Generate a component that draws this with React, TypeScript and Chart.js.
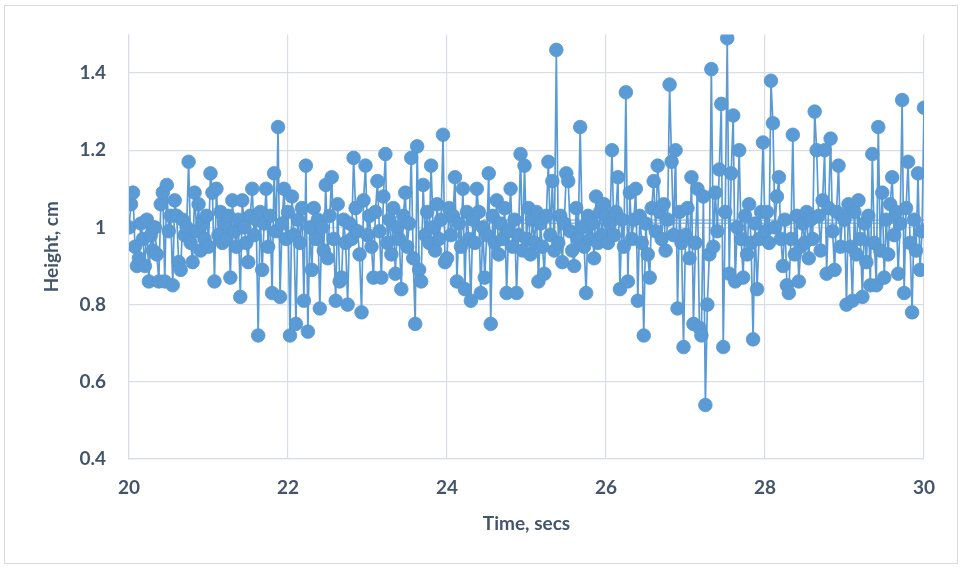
import React, { useEffect, useRef } from "react";
import { Chart, registerables } from "chart.js";

Chart.register(...registerables);

// Sampling of the trace
const START_TIME = 20;
const SAMPLE_STEP = 0.025;

// Height samples (cm), one array per second of the trace
const heights20 = [1.00, 1.06, 1.09, 0.95, 0.90, 0.92, 1.01, 0.97, 0.90, 1.02, 0.86, 0.98, 0.94, 1.00, 0.93, 0.86, 1.06, 1.09, 0.86, 1.11, 0.99, 1.03, 0.85, 1.07, 1.03, 0.91, 0.89, 1.02, 0.98, 1.00, 1.17, 0.96, 0.91, 1.09, 0.99, 1.06, 0.94, 1.01, 0.97, 1.03];
const heights21 = [0.95, 1.14, 1.09, 0.86, 1.10, 0.98, 1.04, 0.96, 1.01, 0.97, 1.03, 0.87, 1.07, 0.99, 0.95, 1.02, 0.82, 1.07, 1.00, 0.96, 0.91, 1.03, 1.10, 0.98, 1.02, 0.72, 1.04, 0.89, 1.01, 1.10, 0.95, 1.03, 0.83, 1.14, 0.99, 1.26, 0.82, 1.01, 1.10, 0.97];
const heights22 = [1.04, 0.72, 1.08, 0.98, 0.75, 1.02, 0.96, 1.05, 0.81, 1.16, 0.73, 1.00, 0.89, 1.05, 0.97, 1.02, 0.79, 1.00, 0.94, 1.11, 0.92, 1.03, 1.13, 0.97, 0.81, 1.06, 0.86, 0.87, 1.02, 0.96, 0.80, 1.01, 0.97, 1.18, 1.05, 0.99, 0.93, 0.78, 1.07, 1.16];
const heights23 = [0.98, 1.03, 0.95, 0.87, 1.04, 1.12, 0.99, 0.87, 1.08, 1.19, 0.96, 1.02, 0.93, 1.05, 0.88, 1.00, 0.97, 0.84, 1.03, 1.09, 0.95, 1.01, 1.18, 0.92, 0.75, 1.21, 0.89, 0.86, 1.11, 0.98, 1.04, 0.96, 1.16, 1.00, 0.94, 1.06, 0.97, 1.02, 1.24, 0.91];
const heights24 = [0.92, 1.05, 0.98, 1.03, 1.13, 0.86, 1.01, 0.95, 1.10, 0.84, 1.04, 0.97, 0.81, 1.02, 0.96, 1.10, 1.04, 0.83, 1.00, 0.87, 0.98, 1.14, 0.75, 1.03, 0.96, 1.07, 0.93, 1.01, 0.97, 1.05, 0.83, 0.99, 1.10, 0.95, 1.02, 0.83, 0.98, 1.19, 0.94, 1.16];
const heights25 = [0.97, 1.05, 0.93, 1.02, 0.96, 1.04, 0.86, 1.01, 0.95, 0.88, 1.03, 1.17, 0.98, 1.12, 0.94, 1.46, 0.96, 1.03, 0.91, 1.01, 1.14, 1.12, 0.99, 0.94, 0.90, 1.05, 0.97, 1.26, 1.00, 0.95, 0.83, 1.03, 0.97, 1.01, 0.92, 1.08, 0.96, 1.04, 0.98, 1.06];
const heights26 = [1.03, 0.96, 1.01, 1.20, 0.98, 1.04, 1.13, 0.84, 1.02, 0.95, 1.35, 0.86, 1.09, 0.97, 1.02, 1.10, 0.81, 1.03, 0.96, 0.72, 1.01, 0.93, 0.87, 1.05, 1.12, 0.99, 1.16, 1.04, 0.97, 1.06, 0.94, 1.02, 1.37, 1.17, 0.98, 1.20, 0.79, 1.04, 0.96, 0.69];
const heights27 = [0.98, 1.05, 0.92, 1.13, 0.75, 0.96, 1.10, 0.74, 0.72, 1.08, 0.54, 0.80, 0.93, 1.41, 0.95, 1.09, 0.99, 1.15, 1.32, 0.69, 1.04, 1.49, 0.88, 1.14, 1.29, 0.86, 1.00, 1.20, 0.97, 0.87, 1.03, 0.93, 1.06, 0.96, 0.71, 1.01, 0.84, 0.97, 1.04, 1.22];
const heights28 = [0.99, 1.04, 0.96, 1.38, 1.27, 1.00, 1.08, 1.13, 0.97, 0.90, 1.02, 0.85, 0.83, 0.97, 1.24, 0.93, 1.03, 0.86, 0.95, 1.01, 0.96, 1.04, 0.92, 1.02, 0.97, 1.30, 1.20, 1.03, 0.94, 1.07, 1.20, 0.88, 1.05, 1.23, 0.99, 0.89, 1.04, 1.16, 0.95, 1.03];
const heights29 = [1.02, 0.80, 1.06, 0.95, 0.81, 1.04, 0.93, 1.07, 0.97, 0.82, 1.01, 0.91, 1.03, 0.85, 1.19, 0.96, 0.85, 1.26, 0.94, 1.09, 0.87, 1.02, 0.93, 1.06, 1.13, 0.98, 1.04, 0.88, 1.01, 1.33, 0.83, 1.05, 1.17, 0.96, 0.78, 1.02, 0.94, 1.14, 0.89, 0.99];
const heights30 = [1.31];

// Thin horizontal reference traces in the later part of the record
const refTimes = [24.45, 30];
const refLevelA = [1.011, 1.011];
const refLevelB = [1.019, 1.019];

// Axis ticks
const yTicks = [0.4, 0.6, 0.8, 1.0, 1.2, 1.4];
const xTickStep = 2;

const allHeights = [
  ...heights20, ...heights21, ...heights22, ...heights23, ...heights24,
  ...heights25, ...heights26, ...heights27, ...heights28, ...heights29, ...heights30,
];

const TEXT = "#44546A";
const GRID = "#D9DEE6";
const BLUE = "#5B9BD5";
const FONT = "Lato";

export default function App() {
  const ref = useRef<HTMLCanvasElement | null>(null);

  useEffect(() => {
    document.body.style.margin = "0";
    const canvas = ref.current;
    if (!canvas) return;
    const points = allHeights.map((h, i) => ({
      x: +(START_TIME + i * SAMPLE_STEP).toFixed(3),
      y: h,
    }));
    const refA = refTimes.map((t, i) => ({ x: t, y: refLevelA[i] }));
    const refB = refTimes.map((t, i) => ({ x: t, y: refLevelB[i] }));

    const chart = new Chart(canvas, {
      type: "scatter",
      data: {
        datasets: [
          {
            data: refA,
            showLine: true,
            borderColor: BLUE,
            borderWidth: 1,
            pointRadius: 0,
          },
          {
            data: refB,
            showLine: true,
            borderColor: BLUE,
            borderWidth: 1,
            pointRadius: 0,
          },
          {
            data: points,
            showLine: true,
            borderColor: BLUE,
            borderWidth: 1.7,
            backgroundColor: BLUE,
            pointBackgroundColor: BLUE,
            pointBorderColor: "#5596D0",
            pointBorderWidth: 0.8,
            pointRadius: 6.8,
            pointHoverRadius: 6.8,
          },
        ],
      },
      options: {
        responsive: false,
        animation: false,
        events: [],
        layout: { padding: { top: 34, right: 37, left: 0, bottom: 0 } },
        plugins: {
          legend: { display: false },
          tooltip: { enabled: false },
        },
        scales: {
          x: {
            type: "linear",
            min: 20,
            max: 30,
            afterFit: (scale: any) => {
              scale.height = 109;
            },
            ticks: {
              stepSize: xTickStep,
              padding: 17,
              color: TEXT,
              font: { family: FONT, size: 19, weight: "bold" },
            },
            grid: { color: GRID, lineWidth: 1.2, drawTicks: false },
            border: { color: GRID, width: 1.2 },
            title: {
              display: true,
              text: "Time, secs",
              color: TEXT,
              font: { family: FONT, size: 19, weight: "bold" },
              padding: { top: 0, bottom: 33 },
            },
          },
          y: {
            type: "linear",
            min: 0.4,
            max: 1.5,
            afterFit: (scale: any) => {
              scale.width = 129;
            },
            afterBuildTicks: (scale: any) => {
              scale.ticks = yTicks.map((v) => ({ value: v }));
            },
            ticks: {
              padding: 23,
              color: TEXT,
              font: { family: FONT, size: 19, weight: "bold" },
              callback: (v: any) => String(Number(Number(v).toFixed(1))),
            },
            grid: { color: GRID, lineWidth: 1.2, drawTicks: false },
            border: { color: GRID, width: 1.2 },
            title: {
              display: true,
              text: "Height, cm",
              color: TEXT,
              font: { family: FONT, size: 19, weight: "bold" },
              padding: { top: 40, bottom: 0 },
            },
          },
        },
      },
    });
    return () => chart.destroy();
  }, []);

  return (
    <div style={{ position: "relative", width: 961, height: 568, background: "#fff" }}>
      <canvas ref={ref} width={961} height={568} style={{ display: "block" }} />
      <div
        style={{
          position: "absolute",
          left: 4,
          top: 5,
          width: 952,
          height: 557,
          border: "1px solid #D9D9D9",
          pointerEvents: "none",
        }}
      />
    </div>
  );
}
